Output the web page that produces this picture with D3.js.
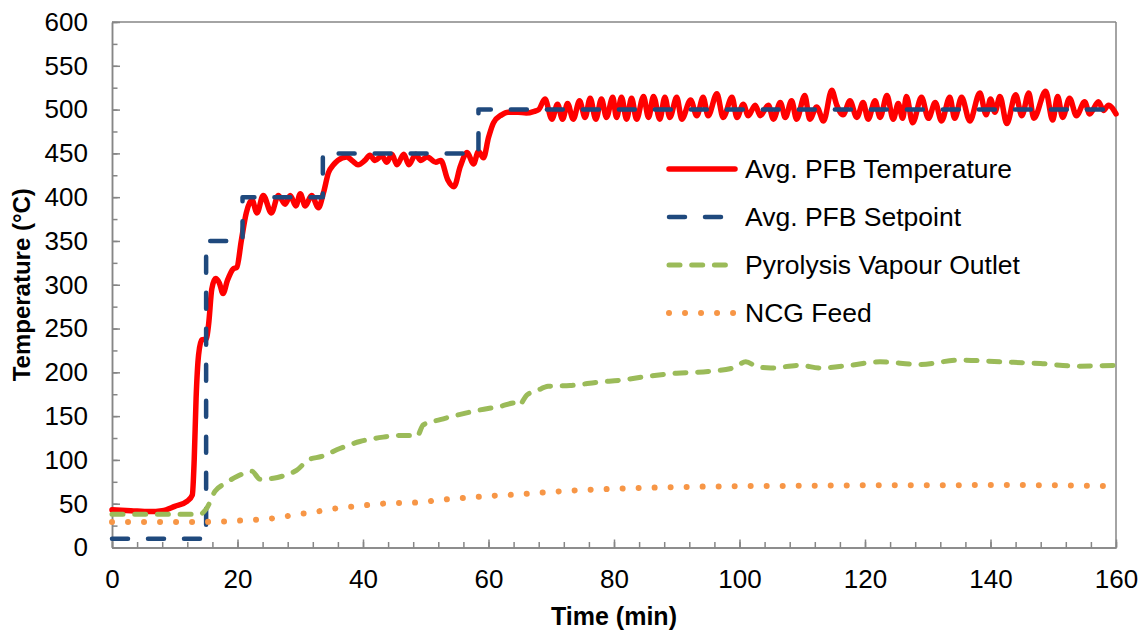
<!DOCTYPE html>
<html>
<head>
<meta charset="utf-8">
<script src="https://cdn.jsdelivr.net/npm/d3@7"></script>
<style>
  html, body { margin: 0; padding: 0; background: #ffffff; }
  svg { display: block; font-family: "Liberation Sans", Arial, sans-serif; }
</style>
</head>
<body>
<svg id="chart" width="1145" height="632"></svg>
<script>
// Avg. PFB Temperature (time in min, temperature in °C)
const tempTime = [0, 3, 6, 8, 10, 12, 12.8, 13.1, 13.4, 13.8, 14.3, 15.0, 15.4, 15.9, 16.5, 17.1, 17.7, 18.4, 19.3, 19.9,
  20.6, 21.4, 22.3, 23.1, 24.1, 25.4, 26.5, 27.6, 28.4, 29.3, 30.0, 30.8, 31.8, 32.9, 33.7, 34.5, 35.3, 36.0, 37.4, 38.4,
  39.2, 40.3, 41.1, 41.9, 43.0, 43.8, 44.6, 45.4, 46.5, 47.3, 48.4, 49.2, 50.2, 51.6, 52.4, 53.5, 54.5, 55.5, 56.6, 57.6,
  58.4, 59.2, 60.0, 60.8, 62.1, 63.1, 64.7, 66.0, 67.3, 68.0, 69.0, 70.1, 71.0, 71.8, 72.6, 73.5, 74.5, 75.4, 76.2, 77.1,
  78.0, 78.8, 79.8, 80.4, 81.2, 82.0, 82.8, 83.6, 84.7, 85.5, 86.3, 87.3, 88.1, 88.9, 90.0, 90.8, 92.2, 93.2, 94.2, 95.0,
  96.4, 97.4, 98.8, 99.6, 100.6, 101.4, 102.5, 103.3, 104.6, 105.4, 106.5, 107.3, 108.3, 109.1, 110.4, 111.2, 112.3, 113.4, 114.7, 115.5,
  116.5, 117.6, 118.7, 119.7, 120.5, 121.6, 122.4, 123.5, 124.5, 125.3, 126.0, 126.6, 127.6, 129.0, 130.1, 131.2, 132.2, 133.5, 134.3, 135.4,
  136.7, 138.3, 139.3, 140.0, 140.7, 141.5, 142.6, 144.0, 145.0, 146.1, 146.9, 148.8, 149.9, 150.7, 151.5, 152.6, 153.7, 155.0, 155.8, 157.2,
  158.0, 158.8, 160.0];
const tempValue = [43, 42, 41, 42, 47, 53, 60, 100, 170, 220, 237, 238, 255, 295, 307, 302, 290, 305, 318, 320,
  350, 382, 397, 382, 402, 382, 402, 392, 402, 390, 404, 390, 402, 388, 405, 428, 437, 442, 446, 441,
  437, 442, 448, 442, 447, 440, 449, 437, 449, 437, 449, 442, 446, 440, 442, 420, 412, 435, 451, 438,
  452, 445, 468, 485, 494, 497, 497, 496, 498, 500, 512, 489, 506, 489, 507, 489, 510, 491, 513, 489,
  512, 491, 514, 491, 514, 489, 513, 489, 515, 491, 515, 489, 514, 491, 514, 489, 511, 493, 514, 493,
  518, 491, 514, 491, 506, 493, 505, 493, 505, 489, 508, 491, 510, 489, 516, 489, 503, 487, 522, 505,
  494, 510, 491, 508, 489, 510, 491, 516, 489, 507, 490, 515, 485, 514, 490, 508, 487, 514, 490, 514,
  487, 519, 494, 512, 497, 515, 484, 517, 493, 519, 490, 521, 488, 515, 491, 513, 493, 509, 495, 509,
  499, 505, 495];

// Avg. PFB Setpoint (step profile)
const setTime = [0, 15.0, 15.0, 20.8, 20.8, 33.6, 33.6, 58.4, 58.4, 160];
const setValue = [10, 10, 350, 350, 400, 400, 450, 450, 500, 500];

// Pyrolysis Vapour Outlet
const vapTime = [0, 5, 10, 14, 15.1, 16.4, 18, 19.9, 22.3, 23.6, 25.7, 27.8, 29.4, 31.3, 33.4, 36.3, 39.5, 43.2, 45.9, 48,
  48.6, 49.6, 52.3, 55.5, 58.6, 61.8, 64.2, 64.8, 66.1, 67.7, 69.5, 73, 77.8, 81, 85, 90, 95, 99, 101, 103,
  105, 109.6, 112.8, 117.6, 122.4, 128.8, 135, 141.5, 148, 154, 160];
const vapValue = [38, 38, 38, 38, 45, 64, 73, 81, 87, 78, 79, 83, 88, 100, 104, 113, 121, 126, 128, 128,
  127, 140, 146, 152, 157, 161, 165, 162, 174, 179, 184, 185, 189, 191, 195, 199, 201, 205, 212, 206,
  205, 208, 205, 208, 212, 209, 214, 212, 210, 207, 208];

// NCG Feed
const ncgTime = [0, 5, 10, 13.5, 16.1, 18.8, 21.5, 24.7, 27.2, 29.7, 32.6, 35.8, 38.2, 40.8, 43.8, 49.4, 51.7, 55.2, 60.2, 65.5,
  69, 75, 80, 90, 100, 110, 120, 130, 140, 150, 160];
const ncgValue = [29, 29, 29, 29, 29.5, 30, 31.4, 32.5, 35, 38, 41, 44.7, 46.6, 48.5, 50.4, 51.6, 54, 56, 58.8, 61,
  63, 65.6, 67, 69, 70, 70.5, 71, 71, 71.4, 71, 70];

// Axis ticks
const xMajorTicks = [0, 20, 40, 60, 80, 100, 120, 140, 160];
const xMinorTicks = d3.range(0, 161, 4);
const yMajorTicks = [0, 50, 100, 150, 200, 250, 300, 350, 400, 450, 500, 550, 600];
const yMinorTicks = d3.range(0, 601, 25);

const seriesNames = ["Avg. PFB Temperature", "Avg. PFB Setpoint", "Pyrolysis Vapour Outlet", "NCG Feed"];

const svg = d3.select("#chart");
const plotLeft = 112, plotRight = 1116, plotTop = 22, plotBottom = 547.5;
const axisColor = "#868686";

const x = d3.scaleLinear().domain([0, 160]).range([plotLeft, plotRight]);
const y = d3.scaleLinear().domain([0, 600]).range([plotBottom, plotTop]);

// plot frame: top and right edges
svg.append("line").attr("x1", plotLeft).attr("x2", plotRight).attr("y1", plotTop).attr("y2", plotTop)
  .attr("stroke", axisColor).attr("stroke-width", 1.5);
svg.append("line").attr("x1", plotRight).attr("x2", plotRight).attr("y1", plotTop).attr("y2", plotBottom)
  .attr("stroke", axisColor).attr("stroke-width", 1.5);

// minor ticks (inside)
const xMinor = svg.append("g").attr("transform", `translate(0,${plotBottom})`)
  .call(d3.axisBottom(x).tickValues(xMinorTicks).tickSizeInner(-5.5).tickSizeOuter(0).tickFormat(""));
const yMinor = svg.append("g").attr("transform", `translate(${plotLeft},0)`)
  .call(d3.axisLeft(y).tickValues(yMinorTicks).tickSizeInner(-5.5).tickSizeOuter(0).tickFormat(""));

// major ticks with labels
const xAxis = svg.append("g").attr("transform", `translate(0,${plotBottom})`)
  .call(d3.axisBottom(x).tickValues(xMajorTicks).tickSizeInner(-8).tickSizeOuter(0).tickPadding(22).tickFormat(d3.format("d")));
const yAxis = svg.append("g").attr("transform", `translate(${plotLeft},0)`)
  .call(d3.axisLeft(y).tickValues(yMajorTicks).tickSizeInner(-8).tickSizeOuter(0).tickPadding(24).tickFormat(d3.format("d")));

[xMinor, yMinor, xAxis, yAxis].forEach(g => {
  g.selectAll("path.domain").attr("stroke", axisColor).attr("stroke-width", 1.5);
  g.selectAll(".tick line").attr("stroke", axisColor).attr("stroke-width", 1.5);
  g.selectAll("text").attr("fill", "#000").style("font-size", "26px")
    .style("font-family", "'Liberation Sans', Arial, sans-serif");
});

// axis titles
svg.append("text").attr("x", (plotLeft + plotRight) / 2).attr("y", 625)
  .attr("text-anchor", "middle").style("font-weight", "bold").style("font-size", "25px")
  .text("Time (min)");
svg.append("text").attr("transform", `translate(30,${(plotTop + plotBottom) / 2}) rotate(-90)`)
  .attr("text-anchor", "middle").style("font-weight", "bold").style("font-size", "24px")
  .text("Temperature (°C)");

// series styles
const styles = [
  { color: "#FF0000", width: 5.5, dash: null },
  { color: "#1F497D", width: 4.5, dash: "16,20" },
  { color: "#9BBB59", width: 5, dash: "11,11.7" },
  { color: "#F79646", width: 6, dash: "0.01,16" }
];

const curved = d3.line().x(d => x(d[0])).y(d => y(d[1])).curve(d3.curveMonotoneX);
const straight = d3.line().x(d => x(d[0])).y(d => y(d[1]));

const series = [
  { pts: d3.zip(tempTime, tempValue), gen: curved },
  { pts: d3.zip(setTime, setValue), gen: straight },
  { pts: d3.zip(vapTime, vapValue), gen: curved },
  { pts: d3.zip(ncgTime, ncgValue), gen: curved }
];

const plot = svg.append("g");
series.forEach((s, i) => {
  const st = styles[i];
  plot.append("path").attr("d", s.gen(s.pts))
    .attr("fill", "none").attr("stroke", st.color).attr("stroke-width", st.width)
    .attr("stroke-linecap", "round").attr("stroke-linejoin", "round")
    .attr("stroke-dasharray", st.dash);
});

// legend
const legendY = [169, 217, 265, 313];
const legend = svg.append("g");
seriesNames.forEach((name, i) => {
  const st = styles[i];
  legend.append("line").attr("x1", 669).attr("x2", 735).attr("y1", legendY[i]).attr("y2", legendY[i])
    .attr("stroke", st.color).attr("stroke-width", st.width)
    .attr("stroke-linecap", "round").attr("stroke-dasharray", st.dash);
  legend.append("text").attr("x", 745).attr("y", legendY[i]).attr("dy", "0.35em")
    .style("font-size", "26.5px").attr("fill", "#000").text(name);
});
</script>
</body>
</html>
